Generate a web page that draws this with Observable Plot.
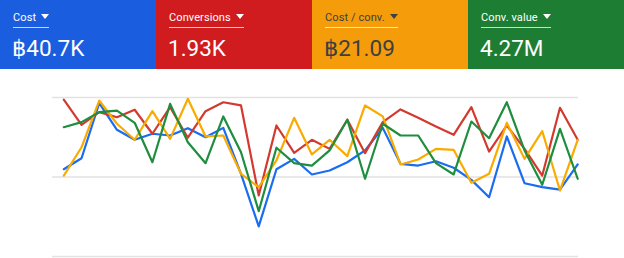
<!DOCTYPE html>
<html>
<head>
<meta charset="utf-8">
<script src="https://cdn.jsdelivr.net/npm/d3@7"></script>
<script src="https://cdn.jsdelivr.net/npm/@observablehq/plot@0.6"></script>
<style>
  html, body { margin: 0; padding: 0; background: #fff; }
  body { width: 624px; height: 258px; overflow: hidden; font-family: Roboto, "Noto Sans", "DejaVu Sans", sans-serif; }
  #cards { display: flex; width: 624px; height: 69px; }
  .card { width: 156px; height: 69px; box-sizing: border-box; padding-left: 13px; position: relative; }
  .lab { position: absolute; left: 13px; top: 11px; font-size: 11px; line-height: 14px; padding-bottom: 2px; border-bottom: 1px solid rgba(255,255,255,0.75); white-space: nowrap; letter-spacing: 0.1px; }
  .lab .arr { display: inline-block; width: 0; height: 0; border-left: 4px solid transparent; border-right: 4px solid transparent; border-top: 5px solid currentColor; margin-left: 5px; vertical-align: 2px; }
  .val { position: absolute; left: 12px; top: 34px; font-size: 22.5px; line-height: 28px; white-space: nowrap; }
  #chart svg { display: block; }
</style>
</head>
<body>
<div id="cards"></div>
<div id="chart"></div>
<script>
// Metric cards
const metricLabels = ["Cost", "Conversions", "Cost / conv.", "Conv. value"];
const metricValues = ["฿40.7K", "1.93K", "฿21.09", "4.27M"];
const cardColors = ["#1a5ddf", "#d01c1f", "#f59c0b", "#1d7e33"];
const cardText = ["#ffffff", "#ffffff", "#3c4043", "#ffffff"];
const lineColors = ["#1a6cf0", "#d33a2f", "#f9ab00", "#1e8e3e"];

// Series values (relative index, 0 = bottom gridline, 100 = top gridline)
const days = d3.range(30);
const cost =        [54.9,61.8,96.4,79.7,73.4,77.2,76.1,80.7,75.0,80.9,52.0,18.9,54.9,61.4,51.6,54.1,59.3,66.7,80.9,58.3,57.2,59.9,55.8,48.2,37.3,75.5,46.1,43.6,42.1,57.9];
const conversions = [98.6,82.8,90.8,87.6,92.3,77.2,93.9,74.7,91.4,97.0,95.0,38.4,82.4,65.2,73.4,67.7,86.0,65.0,84.5,92.5,87.2,81.8,76.5,93.9,66.0,82.4,67.7,50.9,93.5,73.4];
const costPerConv = [50.9,68.7,98.1,83.5,73.4,91.4,74.0,99.2,75.5,76.1,52.0,43.6,60.4,87.2,64.2,73.4,63.1,95.0,88.1,57.9,61.0,67.7,67.1,46.4,52.0,84.1,61.4,78.8,41.5,73.4];
const convValue =   [81.3,84.5,90.8,91.8,84.1,59.3,96.0,71.9,58.7,88.1,65.6,28.5,68.4,58.7,57.2,66.7,86.0,48.9,83.5,76.1,76.1,58.7,51.6,84.9,74.4,97.0,66.7,45.1,80.3,48.9];
const gridValues = [0, 50, 100];

const seriesList = [cost, conversions, costPerConv, convValue];

// cards
const cards = d3.select("#cards");
metricLabels.forEach((l, i) => {
  const c = cards.append("div").attr("class", "card").style("background", cardColors[i]).style("color", cardText[i]);
  const lab = c.append("div").attr("class", "lab");
  lab.append("span").text(l);
  lab.append("span").attr("class", "arr");
  c.append("div").attr("class", "val").text(metricValues[i]);
});

const rows = [];
seriesList.forEach((s, k) => s.forEach((v, i) => rows.push({day: days[i], value: v, series: metricLabels[k]})));

const chart = Plot.plot({
  width: 624,
  height: 189,
  marginTop: 28,
  marginBottom: 2,
  marginLeft: 52,
  marginRight: 46,
  x: {domain: [0, 29], range: [63.3, 577.2], axis: null},
  y: {domain: [0, 100], axis: null},
  color: {domain: metricLabels, range: lineColors},
  marks: [
    Plot.ruleY(gridValues, {stroke: "#e2e2e2", strokeWidth: 1.5}),
    Plot.line(rows, {x: "day", y: "value", z: "series", stroke: "series", strokeWidth: 2.2, curve: "linear"})
  ]
});
document.getElementById("chart").appendChild(chart);
</script>
</body>
</html>
